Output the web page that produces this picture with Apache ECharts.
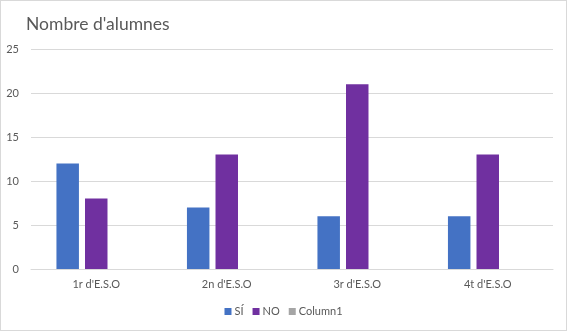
<!DOCTYPE html>
<html><head><meta charset="utf-8">
<script src="https://cdn.jsdelivr.net/npm/echarts@6/dist/echarts.min.js"></script>
<style>
html,body{margin:0;padding:0;background:#fff;}
#c{position:absolute;left:0;top:0;width:565px;height:329px;border:1px solid #d9d9d9;}
</style></head>
<body><div id="c"></div>
<script>
const categories = ["1r d'E.S.O", "2n d'E.S.O", "3r d'E.S.O", "4t d'E.S.O"];
const siValues = [12, 7, 6, 6];
const noValues = [8, 13, 21, 13];
const column1Values = [null, null, null, null];
const yTicks = [0, 5, 10, 15, 20, 25];

const chart = echarts.init(document.getElementById('c'), null, {renderer: 'canvas'});
const font = 'Lato, "Open Sans", sans-serif';
chart.setOption({
  animation: false,
  textStyle: {fontFamily: font},
  title: {
    text: "Nombre d'alumnes",
    left: 20, top: 9,
    textStyle: {fontSize: 17.5, fontWeight: 'normal', color: '#595959', fontFamily: font}
  },
  legend: {
    bottom: 8, left: 'center',
    itemWidth: 7, itemHeight: 7, itemGap: 9,
    icon: 'rect',
    textStyle: {color: '#595959', fontSize: 11, fontFamily: font, padding: [0,0,0,-2]},
    data: ['SÍ', 'NO', 'Column1']
  },
  grid: {left: 30, right: 13, top: 48, bottom: 61},
  xAxis: {
    type: 'category', data: categories,
    axisLine: {lineStyle: {color: '#d9d9d9'}},
    axisTick: {show: false},
    axisLabel: {color: '#595959', fontSize: 11, margin: 10, fontFamily: font}
  },
  yAxis: {
    type: 'value', min: yTicks[0], max: yTicks[yTicks.length-1], interval: 5,
    axisLine: {show: false}, axisTick: {show: false},
    splitLine: {lineStyle: {color: '#d9d9d9'}},
    axisLabel: {color: '#595959', fontSize: 11, margin: 12, fontFamily: font}
  },
  series: [
    {name: 'SÍ', type: 'bar', data: siValues, itemStyle: {color: '#4472C4'}, barGap: '27%', barCategoryGap: '39%'},
    {name: 'NO', type: 'bar', data: noValues, itemStyle: {color: '#7030A0'}},
    {name: 'Column1', type: 'bar', data: column1Values, itemStyle: {color: '#A5A5A5'}}
  ]
});
</script></body></html>
